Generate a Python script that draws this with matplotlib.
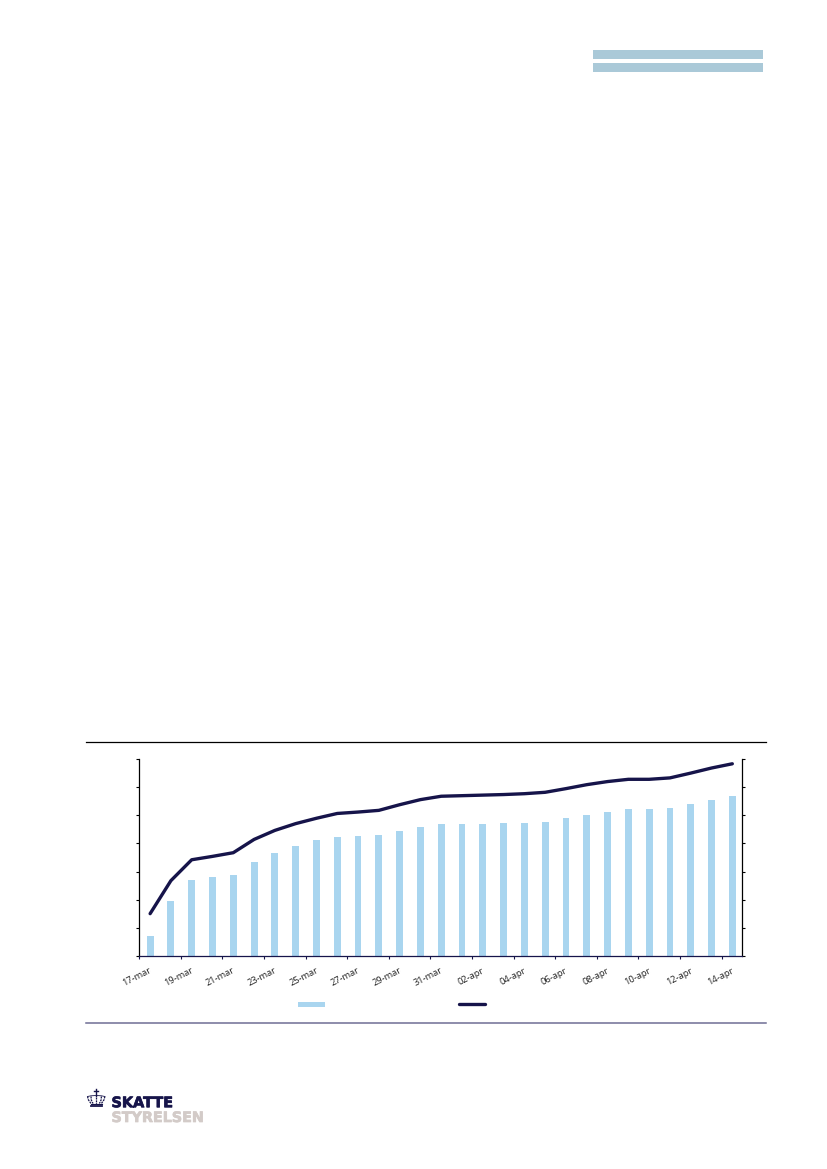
import numpy as np
from matplotlib import pyplot as plt
from matplotlib.patches import Rectangle
import matplotlib.patheffects as pe

plt.rcParams['font.family'] = ['Open Sans', 'DejaVu Sans']

W, H = 827, 1169
NAVY = '#16144a'
BLUE = '#a9d5ef'

days = ['17-mar', '18-mar', '19-mar', '20-mar', '21-mar', '22-mar', '23-mar', '24-mar',
        '25-mar', '26-mar', '27-mar', '28-mar', '29-mar', '30-mar', '31-mar', '01-apr',
        '02-apr', '03-apr', '04-apr', '05-apr', '06-apr', '07-apr', '08-apr', '09-apr',
        '10-apr', '11-apr', '12-apr', '13-apr', '14-apr']
bars = [0.71, 1.96, 2.70, 2.81, 2.88, 3.34, 3.66, 3.90, 4.11, 4.24, 4.26, 4.30, 4.44, 4.57,
        4.68, 4.69, 4.70, 4.71, 4.72, 4.76, 4.89, 5.01, 5.11, 5.21, 5.22, 5.25, 5.40, 5.55, 5.69]
line = [1.51, 2.68, 3.42, 3.54, 3.67, 4.14, 4.46, 4.70, 4.89, 5.06, 5.11, 5.17, 5.37, 5.55,
        5.67, 5.69, 5.71, 5.73, 5.76, 5.81, 5.94, 6.08, 6.19, 6.27, 6.27, 6.32, 6.49, 6.67, 6.82]

fig = plt.figure(figsize=(W / 100, H / 100), dpi=100)

# page furniture, in pixel coordinates
page = fig.add_axes([0, 0, 1, 1])
page.set_xlim(0, W)
page.set_ylim(H, 0)
page.axis('off')
page.add_patch(Rectangle((592.7, 50), 170.6, 8.6, color='#aac9d8', lw=0))
page.add_patch(Rectangle((592.7, 63), 170.6, 8.6, color='#aac9d8', lw=0))
page.plot([86, 766], [741.5, 741.5], color='black', lw=0.9)
page.plot([86, 766], [1022.7, 1022.7], color='#6f6e94', lw=1.1)

# legend keys, their labels are blank in the reference
page.add_patch(Rectangle((298, 1001.7), 27, 5.2, color=BLUE, lw=0))
page.plot([458.5, 485], [1004.2, 1004.2], color=NAVY, lw=2.4, solid_capstyle='round')

# logo
page.text(111.5, 1107.2, 'SKATTE', color=NAVY, fontsize=10.4, fontweight='bold',
          family='DejaVu Sans', va='baseline',
          path_effects=[pe.withStroke(linewidth=0.5, foreground=NAVY)])
page.text(111.5, 1122, 'STYRELSEN', color='#d3cbc8', fontsize=10.3, fontweight='bold',
          family='DejaVu Sans', va='baseline',
          path_effects=[pe.withStroke(linewidth=0.5, foreground='#d3cbc8')])

# crown
page.plot([96.2, 96.2], [1089, 1096], color=NAVY, lw=1)
page.plot([94, 98.4], [1091.3, 1091.3], color=NAVY, lw=1)
for top, mid, low in [(87.5, 88.5, 91), (91, 91.3, 93), (96.2, 96.2, 96.2), (101.4, 101.1, 99.4), (104.9, 103.9, 101.4)]:
    page.plot([top, mid, low], [1096.5, 1100, 1103.5], color=NAVY, lw=0.9, ls=(0, (1.6, 0.7)))
page.plot([87.5, 91, 96.2, 101.4, 104.9], [1096.5, 1095.8, 1095.5, 1095.8, 1096.5], color=NAVY, lw=0.6)
page.plot([90.5, 102], [1103.7, 1103.7], color=NAVY, lw=0.8)
page.plot([90.5, 102], [1106.3, 1106.3], color=NAVY, lw=1.3)

# chart
ax = fig.add_axes([139.3 / W, 1 - 956.3 / H, 603 / W, 197.6 / H])
x = np.arange(len(days))
ax.bar(x, bars, 0.33, color=BLUE)
ax.plot(x, line, color=NAVY, lw=2.4, solid_capstyle='round', solid_joinstyle='round')

ax.set_xlim(-0.52, 28.48)
ax.set_ylim(0, 7)
ax.set_yticks(np.arange(8))
ax.set_yticklabels([])
ax.set_xticks(np.arange(-0.52, 28, 2))
ax.set_xticklabels([])
ax.set_xticks(x[::2] - 0.05, minor=True)
ax.set_xticklabels(days[::2], minor=True, rotation=27, ha='right', rotation_mode='anchor',
                   fontsize=6.7, color='#222222')
ax.tick_params(axis='x', which='major', length=2.5, width=0.8, color=NAVY)
ax.tick_params(axis='x', which='minor', length=0, pad=7)
ax.tick_params(axis='y', length=2.5, width=0.8, left=True, right=True)
ax.spines['top'].set_visible(False)
ax.spines['bottom'].set_color(NAVY)
for s in ['left', 'right', 'bottom']:
    ax.spines[s].set_linewidth(0.9)
ax.patch.set_alpha(0)

plt.savefig('out.png', dpi=100)
